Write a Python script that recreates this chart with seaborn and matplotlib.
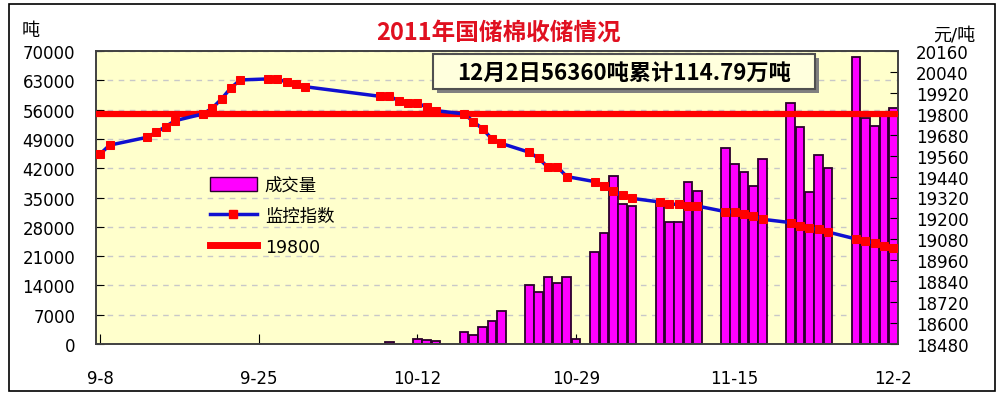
import numpy as np
import pandas as pd
import seaborn as sns
import matplotlib
matplotlib.use('Agg')
import matplotlib.pyplot as plt
from matplotlib.patches import Patch, Rectangle
from matplotlib.lines import Line2D

# chart data
start_date = '2011-09-08'

index_dates = ['2011-09-08', '2011-09-09', '2011-09-13', '2011-09-14', '2011-09-15', '2011-09-16',
               '2011-09-19', '2011-09-20', '2011-09-21', '2011-09-22', '2011-09-23',
               '2011-09-26', '2011-09-27', '2011-09-28', '2011-09-29', '2011-09-30',
               '2011-10-08', '2011-10-09', '2011-10-10', '2011-10-11', '2011-10-12', '2011-10-13', '2011-10-14',
               '2011-10-17', '2011-10-18', '2011-10-19', '2011-10-20', '2011-10-21',
               '2011-10-24', '2011-10-25', '2011-10-26', '2011-10-27', '2011-10-28',
               '2011-10-31', '2011-11-01', '2011-11-02', '2011-11-03', '2011-11-04',
               '2011-11-07', '2011-11-08', '2011-11-09', '2011-11-10', '2011-11-11',
               '2011-11-14', '2011-11-15', '2011-11-16', '2011-11-17', '2011-11-18',
               '2011-11-21', '2011-11-22', '2011-11-23', '2011-11-24', '2011-11-25',
               '2011-11-28', '2011-11-29', '2011-11-30', '2011-12-01', '2011-12-02']
index_values = [19570, 19620, 19665, 19694, 19726, 19760,
                19799, 19832, 19885, 19948, 19994,
                20000, 20000, 19981, 19971, 19955,
                19900, 19900, 19875, 19862, 19862, 19837, 19818,
                19799, 19755, 19713, 19654, 19630,
                19579, 19544, 19493, 19495, 19440,
                19411, 19388, 19357, 19333, 19315,
                19294, 19283, 19280, 19273, 19271,
                19239, 19237, 19228, 19216, 19195,
                19176, 19158, 19146, 19137, 19122,
                19082, 19069, 19061, 19042, 19032]

volume_dates = ['2011-10-09', '2011-10-12', '2011-10-13', '2011-10-14',
                '2011-10-17', '2011-10-18', '2011-10-19', '2011-10-20', '2011-10-21',
                '2011-10-24', '2011-10-25', '2011-10-26', '2011-10-27', '2011-10-28', '2011-10-29',
                '2011-10-31', '2011-11-01', '2011-11-02', '2011-11-03', '2011-11-04',
                '2011-11-07', '2011-11-08', '2011-11-09', '2011-11-10', '2011-11-11',
                '2011-11-14', '2011-11-15', '2011-11-16', '2011-11-17', '2011-11-18',
                '2011-11-21', '2011-11-22', '2011-11-23', '2011-11-24', '2011-11-25',
                '2011-11-28', '2011-11-29', '2011-11-30', '2011-12-01', '2011-12-02']
volume_values = [500, 1300, 900, 600,
                 2800, 2150, 3990, 5420, 8000,
                 14170, 12350, 15930, 14570, 15930, 1200,
                 22050, 26440, 40210, 33450, 33040,
                 33850, 29070, 29070, 38630, 36620,
                 46900, 42900, 41100, 37700, 44300,
                 57500, 51770, 36240, 45150, 42100,
                 68500, 53920, 52200, 55000, 56360]

tick_dates = ['2011-09-08', '2011-09-25', '2011-10-12', '2011-10-29', '2011-11-15', '2011-12-02']
tick_labels = ['9-8', '9-25', '10-12', '10-29', '11-15', '12-2']
left_ticks = list(range(0, 70001, 7000))
right_ticks = list(range(18480, 20161, 120))
target_price = 19800
legend_labels = ['成交量', '监控指数', '19800']
title = '2011年国储棉收储情况'
note = '12月2日56360吨累计114.79万吨'


def dayOffset(dates):
    return np.asarray((pd.to_datetime(dates) - pd.Timestamp(start_date)).days)


W, H = 1004, 402
plt.rcParams['font.family'] = ['DejaVu Sans', 'Noto Sans CJK SC']

vol = pd.DataFrame({'day': dayOffset(volume_dates), 'volume': volume_values})
idx = pd.DataFrame({'day': dayOffset(index_dates), 'index': index_values})

fig = plt.figure(figsize=(W / 100, H / 100), dpi=100)
ax = fig.add_axes([96 / W, 1 - 345 / H, 802 / W, 293 / H])
ax.set_facecolor('#FFFFCC')

sns.barplot(data=vol, x='day', y='volume', native_scale=True, orient='x', width=0.92,
            color='#FF00FF', saturation=1, edgecolor='#2A002A', linewidth=1.3, ax=ax)

ax.yaxis.grid(True, linestyle=(0, (4, 4)), color='#C8C8C8', lw=1)
ax.set_axisbelow(True)
ax.set_ylim(0, 70000)
ax.set_yticks(left_ticks)
ax.set_yticklabels([str(t) for t in left_ticks])
ax.set_xlim(-0.45, 85.5)
ax.set_xticks(dayOffset(tick_dates))
ax.set_xticklabels(tick_labels)
ax.set_xlabel('')
ax.set_ylabel('')
ax.tick_params(axis='y', direction='in', length=6, labelsize=12, pad=15)
ax.tick_params(axis='x', direction='in', length=7, labelsize=12, pad=18)

ax2 = ax.twinx()
ax2.axhline(target_price, color='#FF0000', lw=4.5, zorder=3)
sns.lineplot(data=idx, x='day', y='index', ax=ax2, color='#1010D0', lw=2.5,
             marker='s', markersize=6, markerfacecolor='#FF0000',
             markeredgecolor='#FF0000', zorder=4)
ax2.set_ylim(18480, 20160)
ax2.set_yticks(right_ticks)
ax2.set_ylabel('')
ax2.tick_params(axis='y', direction='in', length=6, labelsize=12, pad=13)
ax2.set_xlim(-0.45, 85.5)

for a in (ax, ax2):
    for s in a.spines.values():
        s.set_color('#404040')
        s.set_linewidth(1.2)

handles = [Patch(facecolor='#FF00FF', edgecolor='#2A002A'),
           Line2D([], [], color='#1010D0', lw=2.5, marker='s', ms=6,
                  markerfacecolor='#FF0000', markeredgecolor='#FF0000'),
           Line2D([], [], color='#FF0000', lw=5)]
ax2.legend(handles, legend_labels, loc='upper left',
           bbox_to_anchor=(210 / W, 1 - 177 / H), bbox_transform=fig.transFigure,
           frameon=False, fontsize=12.5, handlelength=2.7, handleheight=0.9,
           handletextpad=0.45, labelspacing=0.75, borderpad=0, borderaxespad=0,
           numpoints=1)

# titles and units
fig.text(499 / W, 1 - 33 / H, title, ha='center', va='center', color='#E01020',
         fontsize=17, fontweight='bold', family=['Noto Sans CJK SC'])
fig.text(31 / W, 1 - 31 / H, '吨', ha='center', va='center', fontsize=13)
fig.text(954 / W, 1 - 35 / H, '元/吨', ha='center', va='center', fontsize=13)

# note box
fig.patches.append(Rectangle((437 / W, 1 - 94 / H), 382 / W, 35 / H,
                             transform=fig.transFigure, facecolor='#808080',
                             edgecolor='none', zorder=5))
fig.patches.append(Rectangle((433 / W, 1 - 90 / H), 382 / W, 35 / H,
                             transform=fig.transFigure, facecolor='#FFFFDD',
                             edgecolor='#505050', lw=1.5, zorder=6))
fig.text(624 / W, 1 - 73 / H, note, ha='center', va='center', fontsize=16,
         fontweight='bold', family=['Noto Sans CJK SC'], zorder=7)

# outer frame
fig.patches.append(Rectangle((9 / W, 1 - 392 / H), 986 / W, 387 / H,
                             transform=fig.transFigure, fill=False,
                             edgecolor='black', lw=1.2, zorder=8))

fig.savefig('out.png', dpi=100)
